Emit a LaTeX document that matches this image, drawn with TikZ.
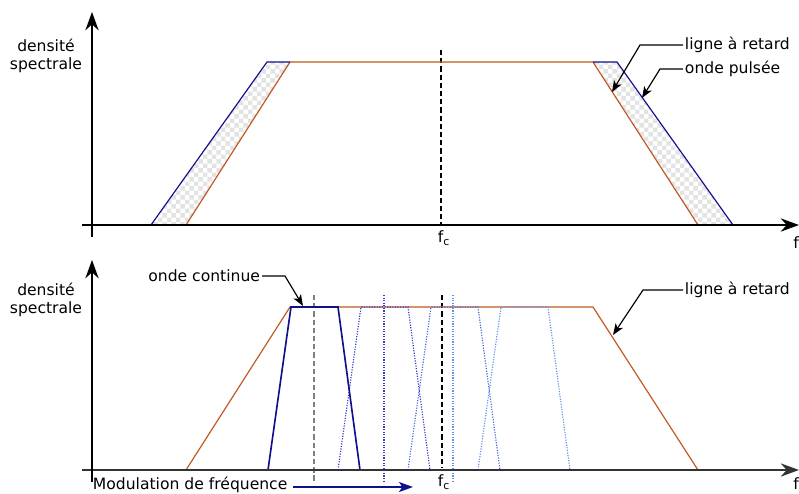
\documentclass[tikz,border=0pt]{standalone}
\usepackage{fontspec}
\setmainfont{DejaVu Sans}
\usepackage{xcolor}
\usetikzlibrary{positioning,arrows.meta,patterns.meta}
\definecolor{delaycol}{RGB}{192,88,30}
\definecolor{pulsecol}{RGB}{16,16,140}
\definecolor{sweepA}{RGB}{50,60,205}
\definecolor{sweepB}{RGB}{70,105,222}
\definecolor{sweepC}{RGB}{100,145,232}
\tikzdeclarepattern{
name=blobs,
type=uncolored,
bounding box={(0,0) and (8pt,8pt)},
tile size={(8pt,8pt)},
code={
\fill (0,0) rectangle (4pt,4pt);
\fill (4pt,4pt) rectangle (8pt,8pt);
}
}
\tikzset{
axis/.style={
-{Stealth[length=5.5mm,width=4mm,inset=1.8mm]},
line width=1.2pt
},
delay/.style={
draw=delaycol,
line width=1pt
},
pulse/.style={
draw=pulsecol,
line width=1pt
},
cw/.style={
draw=pulsecol,
line width=1.4pt
},
sweep/.style={
line width=1pt,
dash pattern=on 1pt off 1.2pt
},
guide/.style={
line width=1pt,
dash pattern=on 4.5pt off 2.5pt
},
band/.style={
pattern={blobs},
pattern color=gray!22
},
label/.style={
inner sep=1.5pt,
font=\fontsize{13.3}{15.3}\selectfont
},
leader/.style={
-{Stealth[length=3.4mm,width=2.6mm,inset=0.9mm]},
line width=1pt
}
}

\begin{document}
\begin{tikzpicture}[x=0.03cm,y=-0.03cm]
\useasboundingbox (0,0) rectangle (799,493);

% spectre de l'onde pulsee
\fill[band] (151,225)--(267,62)--(290,62)--(186,225)--cycle;
\fill[band] (593,62)--(617,62)--(733,225)--(698,225)--cycle;
\draw[guide] (441,50)--(441,225);
\draw[delay] (186,225)--(290,62)--(593,62)--(698,225);
\draw[pulse] (151,225)--(267,62)--(290,62);
\draw[pulse] (593,62)--(617,62)--(733,225);
\draw[axis] (82,225)--(799,225);
\draw[axis] (92,237)--(92,12);

\node[label,align=center](dens1) at (46,56){densité\\spectrale};
\node[label] (fc1) at (444,238){f\textsubscript{c}};
\node[label] (f1) at (796,243){f};
\node[label,anchor=west](ret1) at (683,45){ligne à retard};
\node[label,anchor=west](puls1) at (683,69){onde pulsée};
\coordinate (ret1tip) at (612,92);
\coordinate (puls1tip) at (642,98);
\draw[leader](ret1.west)--(640,45)--(ret1tip);
\draw[leader](puls1.west)--(660,69)--(puls1tip);

% onde continue balayee
\draw[guide,gray] (314,295)--(314,482);
\draw[sweep,sweepA,line width=1.4pt] (384,295)--(384,482);
\draw[sweep,sweepC,line width=1.4pt] (453,295)--(453,482);
\draw[guide] (442,295)--(442,468);
\draw[delay] (186,470)--(290,307)--(593,307)--(698,470);
\draw[sweep,sweepA] (338,470)--(361,307)--(408,307)--(430,470);
\draw[sweep,sweepB] (408,470)--(431,307)--(478,307)--(500,470);
\draw[sweep,sweepC] (478,470)--(501,307)--(548,307)--(570,470);
\draw[cw] (268,470)--(291,307)--(338,307)--(360,470);
\draw[axis,black!80] (82,470)--(799,470);
\draw[axis] (92,482)--(92,260);

\node[label,align=center](dens2) at (46,300){densité\\spectrale};
\node[label] (fc2) at (444,482){f\textsubscript{c}};
\node[label] (f2) at (796,484){f};
\node[label,anchor=east](cont) at (262,276){onde continue};
\node[label,anchor=west](ret2) at (683,290){ligne à retard};
\node[label,anchor=base west](mod) at (91,489){Modulation de fréquence};
\coordinate (conttip) at (303,306);
\coordinate (ret2tip) at (613,335);
\coordinate (modend) at (413,487);
\draw[leader](cont.east)--(285,276)--(conttip);
\draw[leader](ret2.west)--(643,290)--(ret2tip);
\draw[-{Stealth[length=4.2mm,width=3mm,inset=1mm]},pulsecol,line width=1.4pt]
(mod.east|-modend)++(4,0)--(modend);
\end{tikzpicture}
\end{document}
